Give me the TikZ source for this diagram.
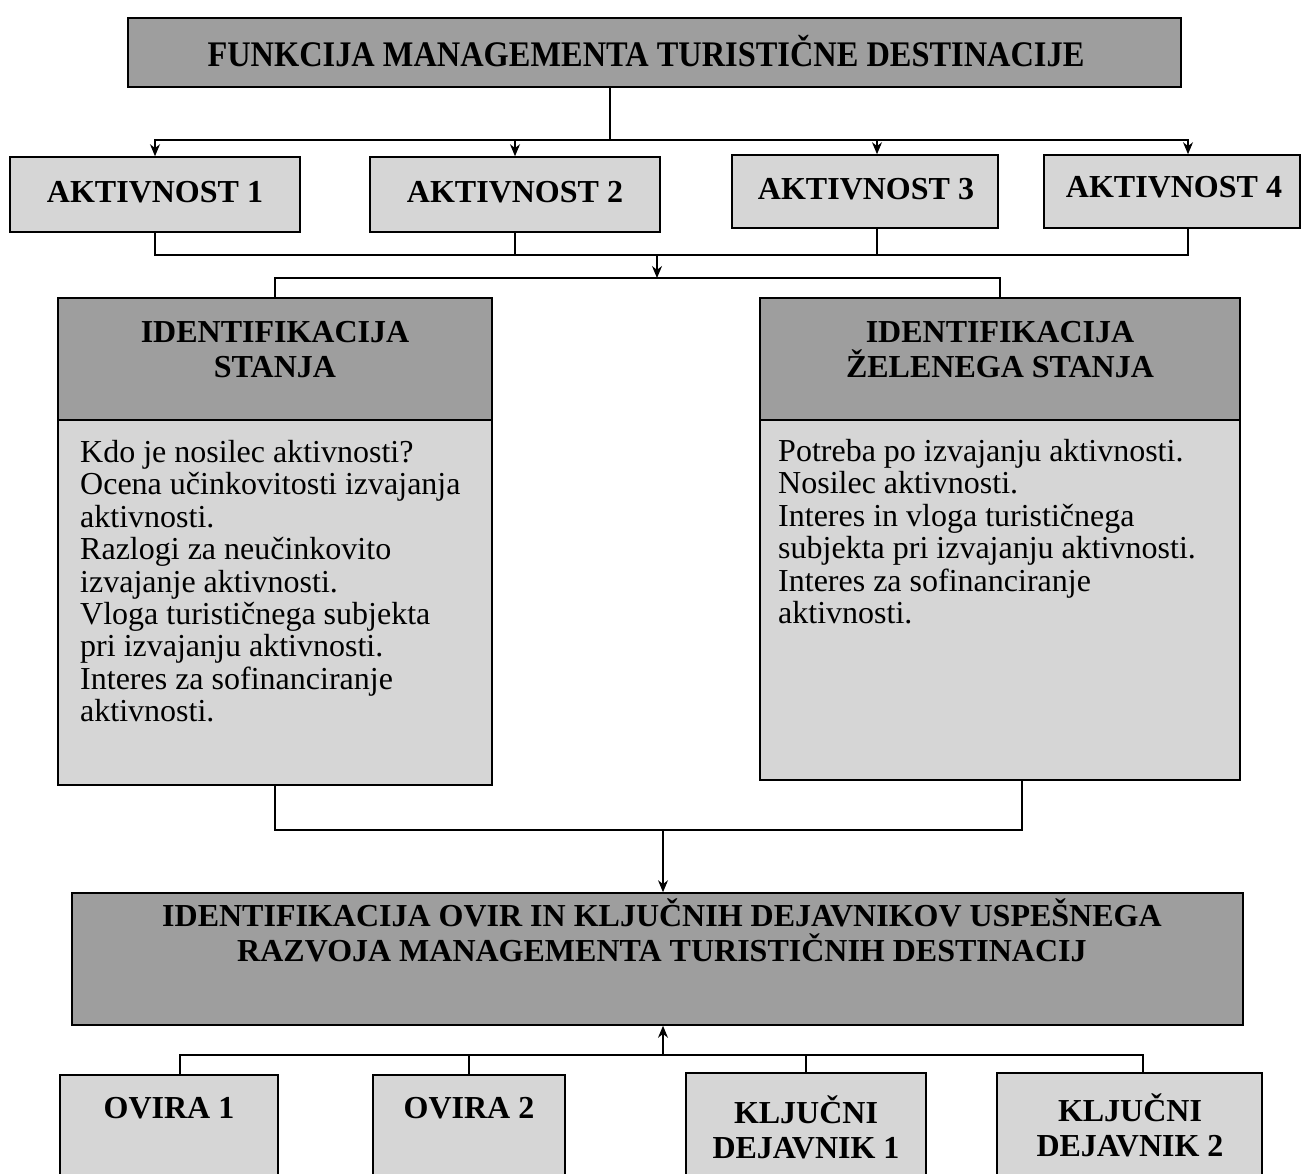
\documentclass[tikz,border=0pt]{standalone}
\usepackage{fontspec}
\setmainfont{Liberation Serif}
\usetikzlibrary{arrows.meta}
\definecolor{lightfill}{gray}{0.84}
\definecolor{darkfill}{gray}{0.62}
\begin{document}
\begin{tikzpicture}[x=1pt,y=-1pt,
  boxlight/.style={draw, line width=1.6pt, fill=lightfill, inner sep=0pt},
  boxdark/.style={draw, line width=1.6pt, fill=darkfill, inner sep=0pt},
  conn/.style={line width=1.1pt},
  arr/.style={conn,-{Stealth[length=12pt,width=10pt]}},
  hdr/.style={font=\fontsize{32}{35}\selectfont\bfseries, align=center, inner sep=0pt},
  bodytext/.style={font=\fontsize{32}{32.4}\selectfont, align=left, inner sep=0pt, anchor=north west},
]
\useasboundingbox (0,0) rectangle (1301,1173);
\clip (0,0) rectangle (1301,1173);
\fill[white] (0,0) rectangle (1301,1173);

% title
\node[boxdark, minimum width=1053pt, minimum height=69pt] (title) at (654.5,52.5) {};
\node[hdr] (titletext) at (646,51) {\scalebox{0.9}[1]{\fontsize{36}{40}\selectfont FUNKCIJA MANAGEMENTA TURISTIČNE DESTINACIJE}};

% activities
\node[boxlight, minimum width=290pt, minimum height=75pt] (a1) at (155,194.5) {};
\node[hdr] (a1t) at (155,192) {AKTIVNOST 1};
\node[boxlight, minimum width=290pt, minimum height=75pt] (a2) at (515,194.5) {};
\node[hdr] (a2t) at (515,192) {AKTIVNOST 2};
\node[boxlight, minimum width=266pt, minimum height=73pt] (a3) at (865,191.5) {};
\node[hdr] (a3t) at (866,189) {AKTIVNOST 3};
\node[boxlight, minimum width=256pt, minimum height=73pt] (a4) at (1172,191.5) {};
\node[hdr] (a4t) at (1174,187) {AKTIVNOST 4};

% state boxes
\node[boxdark, minimum width=434pt, minimum height=122pt] (lsh) at (275,359) {};
\node[hdr] (lsht) at (275,350) {IDENTIFIKACIJA\\STANJA};
\node[boxlight, minimum width=434pt, minimum height=365pt] (lsb) at (275,602.5) {};
\node[bodytext] (lsbt) at (80,440) {Kdo je nosilec aktivnosti?\\Ocena učinkovitosti izvajanja\\aktivnosti.\\Razlogi za neučinkovito\\izvajanje aktivnosti.\\Vloga turističnega subjekta\\pri izvajanju aktivnosti.\\Interes za sofinanciranje\\aktivnosti.};

\node[boxdark, minimum width=480pt, minimum height=122pt] (rsh) at (1000,359) {};
\node[hdr] (rsht) at (1000,350) {IDENTIFIKACIJA\\ŽELENEGA STANJA};
\node[boxlight, minimum width=480pt, minimum height=360pt] (rsb) at (1000,600) {};
\node[bodytext] (rsbt) at (778,439) {Potreba po izvajanju aktivnosti.\\Nosilec aktivnosti.\\Interes in vloga turističnega\\subjekta pri izvajanju aktivnosti.\\Interes za sofinanciranje\\aktivnosti.};

% big box
\node[boxdark, minimum width=1171pt, minimum height=132pt] (big) at (657.5,959) {};
\node[hdr] (bigt) at (662,930) {IDENTIFIKACIJA OVIR IN KLJUČNIH DEJAVNIKOV USPEŠNEGA\\RAZVOJA MANAGEMENTA TURISTIČNIH DESTINACIJ};

% bottom boxes
\node[boxlight, minimum width=218pt, minimum height=150pt] (o1) at (169,1150) {};
\node[hdr] (o1t) at (169,1108) {OVIRA 1};
\node[boxlight, minimum width=192pt, minimum height=150pt] (o2) at (469,1150) {};
\node[hdr] (o2t) at (469,1108) {OVIRA 2};
\node[boxlight, minimum width=240pt, minimum height=150pt] (k1) at (806,1148) {};
\node[hdr] (k1t) at (806,1127) {KLJUČNI\\DEJAVNIK 1};
\node[boxlight, minimum width=265pt, minimum height=150pt] (k2) at (1129.5,1148) {};
\node[hdr] (k2t) at (1130,1125) {KLJUČNI\\DEJAVNIK 2};

% connectors: title -> activities
\coordinate (jt) at (610,140);
\draw[conn] (title.south -| jt) -- (jt);
\draw[arr] (jt) -| (a1.north);
\draw[arr] (jt) -| (a2.north);
\draw[arr] (jt) -| ([xshift=12pt]a3.north);
\draw[arr] (jt) -| ([xshift=16pt]a4.north);

% activities -> state boxes
\coordinate (ja) at (657,255);
\coordinate (jb) at (657,278);
\draw[conn] (a1.south) |- (ja);
\draw[conn] (a2.south) |- (ja);
\draw[conn] ([xshift=12pt]a3.south) |- (ja);
\draw[conn] ([xshift=16pt]a4.south) |- (ja);
\draw[arr] (ja) -- (jb);
\draw[conn] (lsh.north) |- (jb);
\draw[conn] (rsh.north) |- (jb);

% state boxes -> big box
\coordinate (jc) at (663,830);
\draw[conn] (lsb.south) |- (jc);
\draw[conn] ([xshift=22pt]rsb.south) |- (jc);
\draw[arr] (jc) -- (big.north -| jc);

% bottom boxes -> big box
\coordinate (jd) at (663,1055);
\draw[arr] (jd) -- (big.south -| jd);
\draw[conn] (jd) -| ([xshift=11pt]o1.north);
\draw[conn] (jd) -| (o2.north);
\draw[conn] (jd) -| (k1.north);
\draw[conn] (jd) -| ([xshift=13.5pt]k2.north);
\end{tikzpicture}
\end{document}
